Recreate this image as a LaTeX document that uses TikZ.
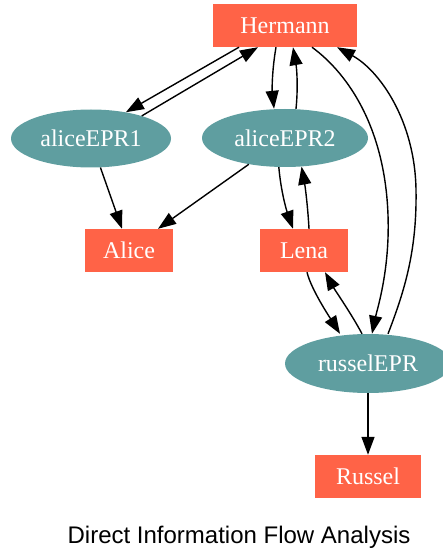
\documentclass[tikz,border=0pt]{standalone}
\usepackage{fontspec}
\setmainfont{Liberation Serif}
\newfontfamily\titlefont{Liberation Sans}
\usetikzlibrary{shapes.geometric,arrows.meta}
\definecolor{tomato}{HTML}{FF6347}
\definecolor{cadet}{HTML}{5F9EA0}
\begin{document}
\begin{tikzpicture}[x=1pt,y=-1pt,
  box/.style={rectangle,fill=tomato,text=white,inner sep=0pt,minimum height=43pt,font=\fontsize{24}{28}\selectfont},
  epr/.style={ellipse,fill=cadet,text=white,inner sep=0pt,minimum height=58pt,font=\fontsize{24}{28}\selectfont},
  flow/.style={draw=black,line width=1.4pt,-{Triangle[length=18pt,width=13pt]}}]
\useasboundingbox (0,0) rectangle (443,548);
\begin{scope}
\clip (0,0) rectangle (443,548);
\node[box,minimum width=144pt] (Hermann) at (285,25.5) {Hermann};
\node[epr,minimum width=160pt] (aliceEPR1) at (91,138.5) {aliceEPR1};
\node[epr,minimum width=166pt] (aliceEPR2) at (285,138) {aliceEPR2};
\node[box,minimum width=88pt] (Alice) at (129,250.5) {Alice};
\node[box,minimum width=88pt] (Lena) at (304,250.5) {Lena};
\node[epr,minimum width=166pt,minimum height=59pt] (russelEPR) at (368,363.5) {russelEPR};
\node[box,minimum width=106pt] (Russel) at (368,476.5) {Russel};
\end{scope}
\node[font=\titlefont\fontsize{24}{28}\selectfont,anchor=base] (title) at (239,543) {Direct Information Flow Analysis};

\coordinate (m5) at (388,215);
\coordinate (m6) at (416,190);

% Hermann <-> aliceEPR1
\draw[flow] ([xshift=-46pt]Hermann.south) -- (aliceEPR1.37);
\draw[flow] (aliceEPR1.24) -- ([xshift=-27pt]Hermann.south);
% Hermann <-> aliceEPR2
\draw[flow] ([xshift=-9pt]Hermann.south) .. controls +(-4,23) and +(-2,-19) .. ([xshift=-11pt]aliceEPR2.north);
\draw[flow] ([xshift=11pt]aliceEPR2.north) .. controls +(2,-19) and +(4,23) .. ([xshift=8pt]Hermann.south);
% Hermann <-> russelEPR
\draw[flow] ([xshift=27pt]Hermann.south) .. controls +(38,28) and (385,130) .. (m5)
  .. controls (390,270) and +(5,-24) .. ([xshift=4pt]russelEPR.north);
\draw[flow] ([xshift=20pt]russelEPR.north) .. controls +(17,-44) and (417,250) .. (m6)
  .. controls (415,120) and +(42,23) .. ([xshift=52pt]Hermann.south);
% to Alice
\draw[flow] (aliceEPR1.-72) -- ([xshift=-7pt]Alice.north);
\draw[flow] (aliceEPR2.-144) -- ([xshift=29pt]Alice.north);
% aliceEPR2 <-> Lena
\draw[flow] (aliceEPR2.-102) .. controls +(2,23) and +(-7,-20) .. ([xshift=-11pt]Lena.north);
\draw[flow] ([xshift=5pt]Lena.north) .. controls +(-1,-19) and +(4,22) .. (aliceEPR2.-60);
% Lena <-> russelEPR
\draw[flow] ([xshift=3pt]Lena.south) .. controls +(4,17) and +(-10,-16) .. ([xshift=-28pt]russelEPR.north);
\draw[flow] ([xshift=-6pt]russelEPR.north) .. controls +(-10,-19) and +(10,18) .. ([xshift=21pt]Lena.south);
% russelEPR -> Russel
\draw[flow] (russelEPR.south) -- (Russel.north);
\end{tikzpicture}
\end{document}
